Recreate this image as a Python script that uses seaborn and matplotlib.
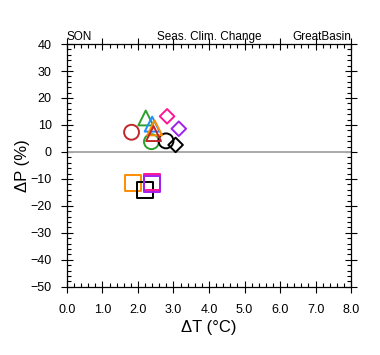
import numpy as np
import pandas as pd
import seaborn as sns
import matplotlib.pyplot as plt
from matplotlib.ticker import MultipleLocator

# data (dT in degC, dP in %)
circle_x = [1.82, 2.38, 2.79]
circle_y = [7.3, 3.8, 4.1]
circle_c = ["#c1272d", "#2ca02c", "black"]

tri_x = [2.22, 2.40, 2.47, 2.44]
tri_y = [12.6, 10.3, 8.9, 6.8]
tri_c = ["#2ca02c", "#1e90ff", "#ff8c00", "#c1272d"]

dia_x = [2.82, 3.15, 3.06]
dia_y = [13.2, 8.6, 2.6]
dia_c = ["#ff1493", "#a020f0", "black"]

sq_x = [1.87, 2.20, 2.40, 2.39]
sq_y = [-11.4, -14.1, -11.0, -12.0]
sq_c = ["#ff8c00", "black", "#ff1493", "#a020f0"]

sns.set_style("ticks", {"axes.edgecolor": "black", "text.color": "black",
                        "xtick.color": "black", "ytick.color": "black",
                        "axes.labelcolor": "black"})
plt.rcParams['font.family'] = ['Liberation Sans', 'DejaVu Sans']

fig = plt.figure(figsize=(3.8, 3.55), dpi=100)
ax = fig.add_axes([0.176, 0.192, 0.748, 0.684])

ax.axhline(0, color="#aaaaaa", lw=1.4, zorder=1)

groups = [
    (circle_x, circle_y, circle_c, "o", 115),
    (tri_x, tri_y, tri_c, "^", 115),
    (dia_x, dia_y, dia_c, "D", 55),
    (sq_x, sq_y, sq_c, "s", 130),
]
for xs, ys, cs, mk, sz in groups:
    df = pd.DataFrame({"dT": xs, "dP": ys, "col": cs})
    for _, r in df.iterrows():
        sns.scatterplot(x=[r.dT], y=[r.dP], ax=ax, marker=mk, s=sz,
                        facecolors="none", edgecolor=r.col, linewidth=1.4,
                        zorder=3)

ax.set_xlim(0, 8)
ax.set_ylim(-50, 40)
ax.xaxis.set_minor_locator(MultipleLocator(0.2))
ax.yaxis.set_major_locator(MultipleLocator(10))
ax.yaxis.set_minor_locator(MultipleLocator(2))
ax.set_xticks(np.arange(0, 8.1, 1))
ax.set_xticklabels([f"{v:.1f}" for v in np.arange(0, 8.1, 1)])
ax.tick_params(which="major", direction="inout", length=8, width=0.8,
               top=True, right=True, labelsize=9)
ax.tick_params(axis="x", which="major", pad=8)
ax.tick_params(axis="y", which="major", pad=7)
ax.tick_params(which="minor", direction="in", length=3, width=0.8,
               top=True, right=True)
for s in ax.spines.values():
    s.set_linewidth(0.9)

ax.set_xlabel("ΔT (°C)", fontsize=12, labelpad=3)
ax.set_ylabel("ΔP (%)", fontsize=12, labelpad=0)

ax.set_title("SON", loc="left", fontsize=8.5, pad=3)
ax.set_title("Seas. Clim. Change", loc="center", fontsize=8.5, pad=5)
ax.set_title("GreatBasin", loc="right", fontsize=8.5, pad=3)

fig.savefig("out.png", dpi=100)
